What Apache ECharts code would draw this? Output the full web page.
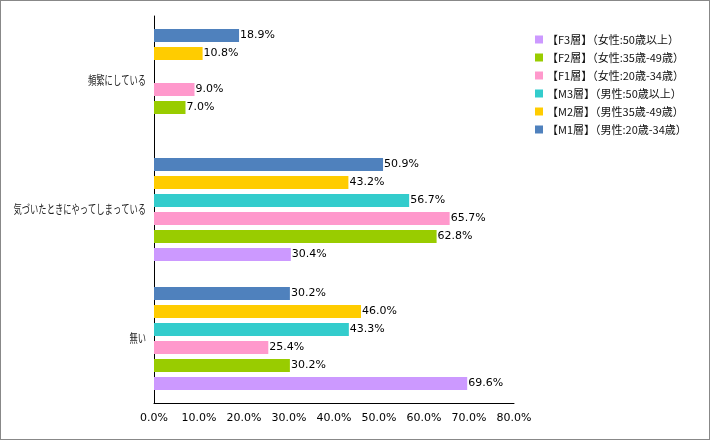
<!DOCTYPE html>
<html><head><meta charset="utf-8">
<script src="https://cdn.jsdelivr.net/npm/echarts@6/dist/echarts.min.js"></script>
<style>html,body{margin:0;padding:0;background:#fff}#c{width:710px;height:440px;box-sizing:border-box;border:1px solid #888}</style>
</head><body><div id="c"></div>
<script>
const categories = ['頻繁にしている', '気づいたときにやってしまっている', '無い'];
const seriesNames = ['【M1層】（男性:20歳-34歳）', '【M2層】（男性35歳-49歳）', '【M3層】（男性:50歳以上）', '【F1層】（女性:20歳-34歳）', '【F2層】（女性:35歳-49歳）', '【F3層】（女性:50歳以上）'];
const m1 = [18.9, 50.9, 30.2];
const m2 = [10.8, 43.2, 46.0];
const m3 = [null, 56.7, 43.3];
const f1 = [9.0, 65.7, 25.4];
const f2 = [7.0, 62.8, 30.2];
const f3 = [null, 30.4, 69.6];
const xTicks = [0, 10, 20, 30, 40, 50, 60, 70, 80];
const colors = ['#4F81BD', '#FFCC00', '#33CCCC', '#FF99CC', '#99CC00', '#CC99FF'];
const values = [m1, m2, m3, f1, f2, f3];

const chart = echarts.init(document.getElementById('c'));
const font = 'DejaVu Sans, Verdana, sans-serif';
const cjk = 'Noto Sans CJK JP, sans-serif';
chart.setOption({
  animation: false,
  grid: {left: 153, top: 15, width: 360, height: 387, containLabel: false, outerBoundsMode: 'none'},
  legend: {
    orient: 'vertical', left: 529, top: 28, itemWidth: 8, itemHeight: 8, itemGap: 7,
    icon: 'rect',
    data: seriesNames.slice().reverse(),
    textStyle: {fontSize: 11, color: '#111', fontFamily: cjk, padding: [0,0,0,-1]}
  },
  xAxis: {
    type: 'value', min: xTicks[0], max: xTicks[xTicks.length-1], interval: 10,
    axisLine: {show: true, lineStyle: {color: '#000', width: 1}},
    axisTick: {show: false}, splitLine: {show: false},
    axisLabel: {formatter: v => v.toFixed(1) + '%', fontSize: 11, color: '#000', fontFamily: font, margin: 10}
  },
  yAxis: {
    type: 'category', data: categories, inverse: true,
    axisLine: {show: true, lineStyle: {color: '#000', width: 1}},
    axisTick: {show: false},
    axisLabel: {show: false}
  },
  series: values.map((d, i) => ({
    name: seriesNames[i], type: 'bar', data: d,
    barWidth: 13, barGap: '38.5%',
    itemStyle: {color: colors[i]},
    label: {show: true, position: 'right', distance: 1, formatter: p => p.value.toFixed(1) + '%', fontSize: 11, color: '#000', fontFamily: font}
  }))
});
const axisX = chart.convertToPixel({xAxisIndex: 0}, 0);
chart.setOption({
  graphic: categories.map(c => ({
    type: 'text', x: axisX - 8, y: chart.convertToPixel({yAxisIndex: 0}, c), scaleX: 0.69,
    style: {text: c, fill: '#222', font: '12px ' + cjk, align: 'right', verticalAlign: 'middle'}
  }))
});
</script></body></html>
